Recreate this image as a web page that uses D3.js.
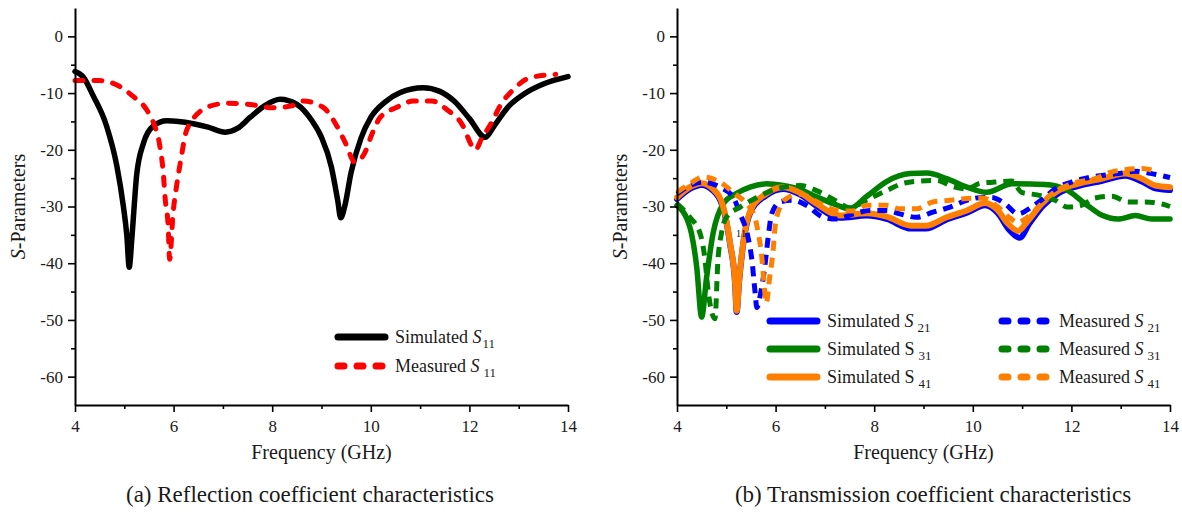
<!DOCTYPE html>
<html>

<head>
  <meta charset="utf-8">
  <title>S-Parameters</title>
  <script src="https://cdn.jsdelivr.net/npm/d3@7/dist/d3.min.js"></script>
  <style>
    body { margin: 0; background: #fff; }
    text { font-family: "Liberation Serif", "Times New Roman", serif; fill: #1a1a1a; }
  </style>
</head>

<body>
  <svg width="1182" height="514" id="mainsvg"></svg>
  <script>
    // ---- data: [frequency (GHz), dB] ----
    const simS11 = [[4, -6.2], [4.17, -7.2], [4.37, -10.5], [4.64, -15.8], [4.85, -22.9], [4.98, -29.9], [5.05, -35], [5.1, -40.7],
      [5.15, -36], [5.2, -30], [5.25, -24.5], [5.39, -18.8], [5.59, -15.8], [5.86, -14.9], [6.1, -15], [6.4, -15.4], [6.7, -16],
      [7.05, -16.9], [7.3, -16.2], [7.55, -14.3], [7.85, -12.2], [8.16, -11.1], [8.5, -12], [8.8, -14.8], [9.0, -17.8], [9.2, -23],
      [9.33, -29], [9.39, -32], [9.47, -30], [9.6, -24], [9.8, -18], [10.0, -14.3], [10.3, -11.5], [10.6, -9.9], [11.06, -9.05],
      [11.4, -9.7], [11.7, -11.5], [12.0, -14.5], [12.32, -17.8], [12.5, -15.8], [12.8, -12.3], [13.1, -10.2], [13.5, -8.4], [14, -7.1]];
    const measS11 = [[4, -7.8], [4.5, -7.8], [4.9, -8.8], [5.18, -10.6], [5.45, -12.9], [5.59, -15.2], [5.72, -19.3], [5.79, -24],
      [5.83, -28.7], [5.89, -33.5], [5.92, -39.3], [5.99, -31.1], [6.06, -26.4], [6.16, -21.1], [6.23, -17.6], [6.37, -14.9],
      [6.54, -13.2], [6.74, -12.3], [7.08, -11.8], [7.55, -12], [8.02, -12.6], [8.42, -12.2], [8.62, -11.4], [9.03, -12.5],
      [9.31, -15.8], [9.48, -18.7], [9.68, -22.2], [9.88, -20.5], [10.02, -17.3], [10.19, -14.3], [10.53, -12.5], [10.86, -11.4],
      [11.24, -11.4], [11.54, -12.9], [11.87, -15.8], [12.05, -19.3], [12.12, -20], [12.25, -18], [12.45, -15.2], [12.62, -12.3],
      [12.9, -9.3], [13.23, -7.3], [13.75, -6.7]];

    const simS21 = [[4, -28.7], [4.26, -26.9], [4.5, -26.2], [4.73, -27.2], [4.94, -30.4], [5.08, -36.8], [5.18, -43.8], [5.21, -48.6],
      [5.26, -43.2], [5.35, -36.2], [5.5, -30.8], [5.8, -28.1], [6.15, -26.9], [6.5, -27.9], [6.83, -29.9], [7.3, -32], [7.85, -31.6],
      [8.25, -32.2], [8.75, -33.9], [9.05, -33.9], [9.47, -32.3], [9.88, -31.1], [10.25, -29.8], [10.51, -31.2], [10.73, -34],
      [10.95, -35.5], [11.14, -33.1], [11.42, -29.9], [11.75, -27.6], [12.13, -26.4], [12.61, -25.5], [13.09, -24.6], [13.43, -25.6],
      [13.7, -26.8], [14, -27.1]];
    const simS31 = [[4, -29.8], [4.26, -33.6], [4.4, -40.7], [4.5, -49.5], [4.6, -42.5], [4.73, -34.8], [4.94, -29.5], [5.21, -27.7],
      [5.48, -26.6], [5.82, -26], [6.15, -26.3], [6.5, -27], [6.83, -28.3], [7.17, -29.5], [7.5, -30.4], [7.85, -28.2], [8.25, -25.6],
      [8.73, -24.2], [9.07, -24.1], [9.47, -25.1], [9.88, -26.6], [10.28, -27.5], [10.8, -26], [11.46, -26.1], [11.93, -27.2],
      [12.28, -29.5], [12.61, -31.5], [12.95, -32.2], [13.3, -31.6], [13.63, -32.2], [14, -32.2]];
    const simS41 = [[4, -28.4], [4.26, -26.6], [4.5, -25.9], [4.73, -26.9], [4.94, -30.1], [5.08, -36.6], [5.18, -43.6], [5.21, -48.4],
      [5.26, -43], [5.35, -36], [5.5, -30.5], [5.8, -27.8], [6.15, -26.6], [6.5, -27.6], [6.83, -29.5], [7.3, -31.6], [7.85, -31.2],
      [8.25, -31.8], [8.75, -33.4], [9.05, -33.4], [9.47, -31.9], [9.88, -30.7], [10.25, -29.4], [10.51, -30.7], [10.71, -33],
      [10.92, -34.3], [11.12, -32.5], [11.4, -29.5], [11.73, -27.2], [12.13, -26], [12.61, -25.1], [13.09, -24.2], [13.43, -25.1],
      [13.7, -26.3], [14, -26.6]];
    const measS21 = [[4, -27.8], [4.2, -26.6], [4.53, -25.7], [4.87, -26.6], [5.14, -28.4], [5.28, -31.3], [5.44, -35.4], [5.52, -39.5],
      [5.58, -44.8], [5.62, -47.8], [5.68, -46], [5.78, -40.7], [5.85, -35.4], [5.92, -31.3], [6.09, -29.2], [6.35, -28.9],
      [6.63, -29.8], [6.97, -31.9], [7.24, -32.2], [7.58, -31.3], [7.92, -30.7], [8.25, -30.7], [8.52, -31.3], [8.86, -31.9],
      [9.19, -31], [9.54, -30.1], [9.88, -28.9], [10.2, -28.4], [10.38, -28.4], [10.65, -29.5], [10.92, -31.3], [11.19, -30.1],
      [11.46, -28.4], [11.67, -26.9], [12.0, -25.7], [12.41, -24.8], [12.95, -24.2], [13.29, -23.8], [13.63, -24.2], [14, -24.9]];
    const measS31 = [[4, -29.5], [4.26, -31.9], [4.47, -34.8], [4.57, -39.5], [4.63, -44.8], [4.7, -48.5], [4.77, -49.8], [4.83, -39.5],
      [4.9, -34.8], [5.0, -31.9], [5.28, -30.1], [5.62, -28.4], [6.02, -26.9], [6.5, -26.3], [6.83, -27.2], [7.2, -28.9], [7.5, -30.2],
      [7.9, -28.6], [8.25, -27.2], [8.59, -25.9], [8.93, -25.5], [9.27, -25.4], [9.6, -26.5], [9.88, -26.9], [10.15, -25.9],
      [10.45, -25.7], [10.79, -25.5], [10.99, -27.5], [11.33, -28], [11.67, -28.9], [11.93, -30.1], [12.2, -29.8], [12.48, -28.5],
      [12.82, -28.2], [13.15, -29.2], [13.49, -29.2], [13.86, -29.6], [14, -30]];
    const measS41 = [[4, -27.5], [4.26, -26], [4.53, -24.8], [4.87, -25.7], [5.18, -27.8], [5.41, -29.5], [5.58, -31.9], [5.65, -34.8],
      [5.72, -38.9], [5.76, -43], [5.81, -47], [5.88, -42.5], [5.95, -37.7], [5.99, -33.6], [6.09, -30.1], [6.22, -28.6], [6.5, -27.8],
      [6.8, -29], [7.2, -30.6], [7.55, -30.8], [7.85, -29.8], [8.25, -29.8], [8.52, -30.4], [8.86, -30.4], [9.19, -29.2], [9.54, -28.9],
      [9.88, -28.6], [10.2, -28.5], [10.5, -30], [10.75, -32], [10.92, -32.8], [11.06, -32.2], [11.26, -30.7], [11.6, -27.8],
      [12.0, -26], [12.48, -25.1], [12.82, -23.9], [13.09, -23.5], [13.43, -23.3], [13.75, -23.9]];

    const xTicks = [4, 6, 8, 10, 12, 14];
    const xMinor = [5, 7, 9, 11, 13];
    const yTicks = [0, -10, -20, -30, -40, -50, -60];
    const yMinor = [-5, -15, -25, -35, -45, -55];

    const svg = d3.select('#mainsvg');
    const plotTop = 8, plotBottom = 405;
    const yScale = d3.scaleLinear().domain([-65, 5]).range([plotBottom, plotTop]);

    // label like "Simulated S 11" with italic S and subscript
    const richLabel = function (sel, word, sub, italicS, gap) {
      sel.append('tspan').text(word + ' ');
      sel.append('tspan').attr('font-style', italicS ? 'italic' : 'normal').text('S');
      sel.append('tspan').attr('font-size', 13).attr('dx', gap).attr('dy', 5).text(sub);
    };

    const drawPanel = function (x0, x1, lines, legendItems, caption, capX) {
      const xScale = d3.scaleLinear().domain([4, 14]).range([x0, x1]);
      const g = svg.append('g');

      const line = d3.line()
        .x(d => xScale(d[0]))
        .y(d => yScale(d[1]))
        .curve(d3.curveMonotoneX);

      lines.forEach(s => {
        g.append('path').datum(s.data)
          .attr('fill', 'none')
          .attr('stroke', s.color)
          .attr('stroke-width', s.width)
          .attr('stroke-dasharray', s.dash || null)
          .attr('stroke-linecap', s.cap || 'round')
          .attr('stroke-linejoin', 'round')
          .attr('d', line);
      });

      // axes
      g.append('g').attr('transform', `translate(0, ${plotBottom})`)
        .call(d3.axisBottom(xScale).tickValues(xTicks).tickSize(7).tickSizeOuter(0).tickPadding(8).tickFormat(d => d));
      g.append('g').attr('transform', `translate(0, ${plotBottom})`)
        .call(d3.axisBottom(xScale).tickValues(xMinor).tickSize(4).tickSizeOuter(0).tickFormat(''))
        .select('.domain').remove();
      g.append('g').attr('transform', `translate(${x0}, 0)`)
        .call(d3.axisLeft(yScale).tickValues(yTicks).tickSize(7).tickSizeOuter(0).tickPadding(5).tickFormat(d => d));
      g.append('g').attr('transform', `translate(${x0}, 0)`)
        .call(d3.axisLeft(yScale).tickValues(yMinor).tickSize(4).tickSizeOuter(0).tickFormat(''))
        .select('.domain').remove();

      g.selectAll('.domain').attr('stroke', '#000').attr('stroke-width', 2);
      g.selectAll('.tick line').attr('stroke', '#000').attr('stroke-width', 1.6);
      g.selectAll('.tick text').attr('font-size', 17).attr('fill', '#1a1a1a');

      // axis titles
      g.append('text')
        .attr('x', (x0 + x1) / 2).attr('y', 459)
        .attr('text-anchor', 'middle').attr('font-size', 20)
        .text('Frequency (GHz)');
      const yt = g.append('text')
        .attr('transform', `translate(${x0 - 50}, ${(plotTop + plotBottom) / 2}) rotate(-90)`)
        .attr('text-anchor', 'middle').attr('font-size', 20);
      yt.append('tspan').attr('font-style', 'italic').text('S');
      yt.append('tspan').text('-Parameters');

      // caption
      g.append('text')
        .attr('x', capX).attr('y', 502)
        .attr('text-anchor', 'middle').attr('font-size', 23)
        .text(caption);

      // legend
      legendItems.forEach(it => {
        g.append('line')
          .attr('x1', it.x).attr('x2', it.x + 47)
          .attr('y1', it.y).attr('y2', it.y)
          .attr('stroke', it.color).attr('stroke-width', 7)
          .attr('stroke-linecap', 'round')
          .attr('stroke-dasharray', it.dash ? '6,13' : null);
        const t = g.append('text')
          .attr('x', it.x + 57).attr('y', it.y + 6)
          .attr('font-size', 18);
        richLabel(t, it.word, it.sub, it.italic, it.gap);
      });
      return g;
    };

    drawPanel(75, 568, [
      { data: simS11, color: '#000000', width: 5.5 },
      { data: measS11, color: '#ff0000', width: 5, dash: '8,11' }
    ], [
      { x: 338, y: 337, color: '#000000', word: 'Simulated', sub: '11', italic: true, gap: 1 },
      { x: 338, y: 366, color: '#ff0000', dash: true, word: 'Measured', sub: '11', italic: true, gap: 4 }
    ], '(a) Reflection coefficient characteristics', 310);

    const gb = drawPanel(677, 1170, [
      { data: simS21, color: '#0000ff', width: 6 },
      { data: simS31, color: '#008000', width: 5.5 },
      { data: simS41, color: '#ff8000', width: 6 },
      { data: measS21, color: '#0000ff', width: 5, dash: '10,7', cap: 'butt' },
      { data: measS31, color: '#008000', width: 5, dash: '10,7', cap: 'butt' },
      { data: measS41, color: '#ff8000', width: 5, dash: '10,7', cap: 'butt' }
    ], [
      { x: 770, y: 321, color: '#0000ff', word: 'Simulated', sub: '21', italic: true, gap: 4 },
      { x: 770, y: 349, color: '#008000', word: 'Simulated', sub: '31', italic: false, gap: 4 },
      { x: 770, y: 377, color: '#ff8000', word: 'Simulated', sub: '41', italic: false, gap: 4 },
      { x: 1002, y: 321, color: '#0000ff', dash: true, word: 'Measured', sub: '21', italic: true, gap: 4 },
      { x: 1002, y: 349, color: '#008000', dash: true, word: 'Measured', sub: '31', italic: true, gap: 4 },
      { x: 1002, y: 377, color: '#ff8000', dash: true, word: 'Measured', sub: '41', italic: true, gap: 4 }
    ], '(b) Transmission coefficient characteristics', 933);

    // stray small "11" that sits inside panel (b)
    gb.append('text').attr('x', 741).attr('y', 237).attr('text-anchor', 'middle')
      .attr('font-size', 11).text('11');
  </script>
</body>

</html>
